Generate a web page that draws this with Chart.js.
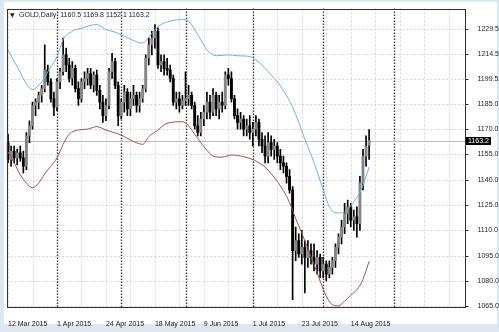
<!DOCTYPE html>
<html>
<head>
<meta charset="utf-8">
<script src="https://cdn.jsdelivr.net/npm/chart.js@4.4.0/dist/chart.umd.min.js"></script>
<style>
html, body { margin: 0; padding: 0; background: #dde8f3; }
canvas { display: block; }
</style>
</head>
<body>
<canvas id="myChart" width="499" height="332"></canvas>
<script>
const ctx = document.getElementById('myChart');

// GOLD daily bars, 10 Mar 2015 .. 24 Aug 2015
const opens  = [1162,1152,1157,1153,1156,1153,1148,1166,1172,1184,1186,1190,1194,1205,1198,1188,1183,1198,1204,1214,
                1208,1200,1206,1194,1188,1198,1200,1203,1196,1202,1193,1186,1178,1184,1204,1210,1196,1178,1186,1192,
                1182,1188,1190,1184,1188,1194,1212,1220,1224,1228,1208,1210,1206,1205,1200,1186,1188,1184,1187,1188,
                1190,1184,1172,1168,1176,1180,1186,1180,1190,1182,1186,1184,1202,1200,1188,1178,1174,1176,1170,1172,
                1168,1170,1174,1164,1160,1154,1162,1158,1160,1154,1150,1148,1142,1134,1098,1104,1096,1100,1094,1098,
                1094,1090,1094,1086,1090,1084,1088,1092,1100,1106,1112,1120,1124,1116,1118,1114,1138,1154,1160.5];
const highs  = [1167,1160,1160,1158,1160,1157,1168,1175,1186,1188,1192,1196,1220,1208,1200,1192,1200,1206,1224,1218,
                1212,1210,1208,1198,1200,1204,1206,1206,1204,1205,1196,1190,1188,1206,1215,1212,1198,1188,1196,1194,
                1192,1196,1192,1192,1196,1214,1224,1228,1232,1230,1214,1214,1212,1208,1202,1192,1192,1190,1204,1196,
                1192,1186,1178,1180,1184,1192,1190,1194,1192,1190,1192,1204,1206,1204,1190,1182,1180,1178,1176,1178,
                1174,1178,1176,1168,1166,1168,1166,1164,1162,1158,1154,1150,1146,1136,1112,1108,1110,1104,1104,1102,
                1102,1098,1096,1094,1092,1092,1094,1102,1108,1116,1126,1128,1126,1122,1124,1142,1158,1166,1169.8];
const lows   = [1150,1148,1150,1149,1151,1144,1146,1162,1170,1178,1182,1186,1192,1196,1186,1178,1181,1194,1202,1204,
                1198,1196,1192,1184,1186,1194,1196,1194,1192,1190,1182,1174,1175,1182,1200,1194,1172,1176,1180,1178,
                1178,1184,1180,1180,1186,1192,1208,1214,1218,1206,1204,1202,1202,1198,1184,1182,1180,1182,1184,1184,
                1182,1170,1166,1166,1172,1176,1176,1178,1178,1176,1180,1182,1196,1186,1176,1170,1170,1166,1166,1164,
                1160,1166,1160,1156,1150,1150,1154,1152,1150,1146,1144,1138,1132,1069,1092,1094,1090,1073,1088,1090,
                1086,1084,1082,1082,1080,1082,1084,1088,1096,1102,1108,1114,1112,1110,1106,1110,1134,1148,1152.1];
const closes = [1152,1157,1153,1156,1153,1148,1166,1172,1184,1186,1190,1194,1205,1198,1188,1183,1198,1204,1214,1208,
                1200,1206,1194,1188,1198,1200,1203,1196,1202,1193,1186,1178,1184,1204,1210,1196,1178,1186,1192,1182,
                1188,1190,1184,1188,1194,1212,1220,1224,1228,1208,1210,1206,1205,1200,1186,1188,1184,1187,1188,1190,
                1184,1172,1168,1176,1180,1186,1180,1190,1182,1186,1184,1202,1200,1188,1178,1174,1176,1170,1172,1168,
                1170,1174,1164,1160,1154,1162,1158,1160,1154,1150,1148,1142,1134,1098,1104,1096,1100,1094,1098,1094,
                1090,1094,1086,1090,1084,1088,1092,1100,1106,1112,1120,1124,1116,1118,1114,1138,1154,1160,1163.2];

// envelope lines, [bar index, price]
const upperBand = [[0,1217],[3,1207],[8,1193.5],[11,1198],[13,1204],[16,1213],[18,1223],[21,1228],[24,1229.8],[29,1232],
                   [32,1229],[35,1227.5],[38,1225],[41,1222.5],[44,1221],[46,1224.5],[48,1229],[50,1232],[53,1234],[57,1235],
                   [59,1234],[61,1229],[63,1223],[65,1217],[68,1213.5],[72,1214],[75,1213.5],[79,1213],[81,1211],[83,1208],
                   [86,1202],[88,1198],[91,1190],[93,1183],[95,1174],[97,1164],[99,1155],[101,1145],[103,1134],[105,1124],
                   [107,1120.5],[109,1120.3],[111,1122.5],[113,1127],[115,1132.5],[117,1142],[118,1147.5]];
const lowerBand = [[0,1156.5],[2,1150],[4,1143],[6,1138],[8,1135.3],[10,1138],[12,1143.5],[14,1148],[16,1153],[18,1161],
                   [20,1167],[23,1169.5],[26,1170],[29,1171.5],[32,1169.5],[34,1168.3],[37,1166.5],[40,1163.6],[44,1161],[46,1165.5],
                   [49,1169.5],[52,1173.5],[57,1174.4],[59,1172],[61,1167],[63,1162],[65,1157.5],[67,1154],[70,1153.4],[73,1154.7],
                   [77,1153.7],[80,1152],[82,1150],[84,1147.5],[88,1139],[90,1133.5],[92,1126.5],[94,1117],[96,1108.5],[98,1099],
                   [100,1090],[102,1080],[104,1071],[106,1066],[108,1065.3],[110,1068],[112,1071.5],[114,1074.8],[116,1081],[118,1091.7]];

const tickIndex = [0, 16, 32, 48, 64, 80, 96, 112];
const tickText = ['12 Mar 2015', '1 Apr 2015', '24 Apr 2015', '18 May 2015', '9 Jun 2015', '1 Jul 2015', '23 Jul 2015', '14 Aug 2015'];
const monthStarts = [16, 37, 58, 80, 103, 126];
const yTicks = [1229.5, 1214.5, 1199.5, 1185.0, 1170.0, 1155.0, 1140.0, 1125.0, 1110.0, 1095.0, 1080.0, 1065.0];

const nSlots = 150; // chart keeps empty room on the right
const slots = Array.from({length: nSlots}, (_, i) => i);
const last = closes.length - 1;

const wicks = lows.map((l, i) => [l, highs[i]]);
const bodies = opens.map((o, i) => [o, closes[i]]);
const bodyColors = opens.map((o, i) => closes[i] >= o ? '#858585' : '#000000');

const font7 = '7px "Liberation Sans", Arial, sans-serif';

const mtPlugin = {
  id: 'mt',
  beforeDraw(chart) {
    const c = chart.ctx;
    c.save();
    c.fillStyle = '#dce7f2';
    c.fillRect(0, 0, 499, 332);
    c.fillStyle = '#ffffff';
    c.fillRect(4, 2, 493, 322);
    c.restore();
  },
  beforeDatasetsDraw(chart) {
    const c = chart.ctx, a = chart.chartArea, x = chart.scales.x, y = chart.scales.y;
    c.save();
    c.lineWidth = 1;
    c.strokeStyle = '#d3d3d3';
    c.setLineDash([2, 2]);
    yTicks.forEach(v => {
      const py = Math.round(y.getPixelForValue(v)) + 0.5;
      c.beginPath(); c.moveTo(a.left, py); c.lineTo(a.right, py); c.stroke();
    });
    for (let i = 0; i < nSlots; i += 8) {
      const px = Math.round(x.getPixelForValue(i)) + 0.5;
      c.beginPath(); c.moveTo(px, a.top); c.lineTo(px, a.bottom); c.stroke();
    }
    // month separators
    c.strokeStyle = '#404040';
    c.lineWidth = 1.4;
    c.setLineDash([1.5, 1.5]);
    monthStarts.forEach(i => {
      const px = Math.round(x.getPixelForValue(i)) + 0.5;
      c.beginPath(); c.moveTo(px, a.top); c.lineTo(px, a.bottom); c.stroke();
    });
    // bid line
    c.setLineDash([]);
    c.lineWidth = 1;
    c.strokeStyle = '#bcbcbc';
    const by = Math.round(y.getPixelForValue(closes[last])) + 0.5;
    c.beginPath(); c.moveTo(a.left, by); c.lineTo(a.right, by); c.stroke();
    c.restore();
  },
  afterDraw(chart) {
    const c = chart.ctx, a = chart.chartArea, y = chart.scales.y;
    c.save();
    c.strokeStyle = '#303030';
    c.lineWidth = 1;
    c.strokeRect(Math.round(a.left) + 0.5, Math.round(a.top) + 0.5,
                 Math.round(a.right) - Math.round(a.left) - 1, Math.round(a.bottom) - Math.round(a.top) - 1);
    yTicks.forEach(v => {
      const py = Math.round(y.getPixelForValue(v)) + 0.5;
      c.beginPath(); c.moveTo(a.right, py); c.lineTo(a.right + 3, py); c.stroke();
    });
    // current price box
    const by = Math.round(y.getPixelForValue(closes[last]));
    c.fillStyle = '#000000';
    c.fillRect(Math.round(a.right), by - 4, 25, 8);
    c.fillStyle = '#ffffff';
    c.font = font7;
    c.textBaseline = 'middle';
    c.textAlign = 'left';
    c.fillText(closes[last].toFixed(1), a.right + 2.5, by + 0.5);
    // title
    c.fillStyle = '#1e1e1e';
    c.font = '6px "DejaVu Sans", sans-serif';
    c.fillText('\u25BC', 10, 15);
    c.font = font7;
    c.fillText('GOLD,Daily  ' + [opens[last], highs[last], lows[last], closes[last]].map(v => v.toFixed(1)).join(' '), 19, 15);
    c.restore();
  }
};

new Chart(ctx, {
  type: 'bar',
  data: {
    labels: slots,
    datasets: [
      {
        type: 'line',
        data: upperBand.map(p => ({x: p[0], y: p[1]})),
        borderColor: '#70b2d8',
        borderWidth: 1,
        pointRadius: 0,
        cubicInterpolationMode: 'monotone',
        fill: false
      },
      {
        type: 'line',
        data: lowerBand.map(p => ({x: p[0], y: p[1]})),
        borderColor: '#a3534b',
        borderWidth: 1,
        pointRadius: 0,
        cubicInterpolationMode: 'monotone',
        fill: false
      },
      {
        data: bodies,
        backgroundColor: bodyColors,
        barThickness: 2.2,
        grouped: false
      },
      {
        data: wicks,
        backgroundColor: '#000000',
        barThickness: 1,
        grouped: false
      }
    ]
  },
  options: {
    responsive: false,
    animation: false,
    devicePixelRatio: 1,
    layout: { padding: { left: 6.5, top: 8.5, right: 0, bottom: 0 } },
    plugins: { legend: { display: false }, tooltip: { enabled: false } },
    scales: {
      x: {
        type: 'category',
        offset: true,
        grid: { display: false },
        border: { display: false },
        ticks: {
          autoSkip: false, maxRotation: 0, minRotation: 0, align: 'start', padding: 4,
          color: '#222222', font: { family: '"Liberation Sans", Arial', size: 7 },
          callback: v => { const k = tickIndex.indexOf(v); return k < 0 ? '' : tickText[k]; }
        },
        afterBuildTicks: s => { s.ticks = tickIndex.map(v => ({value: v})); },
        afterFit: s => { s.height = 24; }
      },
      y: {
        position: 'right',
        min: 1064, max: 1241.5,
        bounds: 'data',
        grid: { display: false },
        border: { display: false },
        ticks: {
          padding: 4, color: '#222222', font: { family: '"Liberation Sans", Arial', size: 7 },
          callback: v => Number(v).toFixed(1)
        },
        afterBuildTicks: s => { s.ticks = yTicks.map(v => ({value: v})); },
        afterFit: s => { s.width = 33.5; }
      }
    }
  },
  plugins: [mtPlugin]
});
</script>
</body>
</html>
